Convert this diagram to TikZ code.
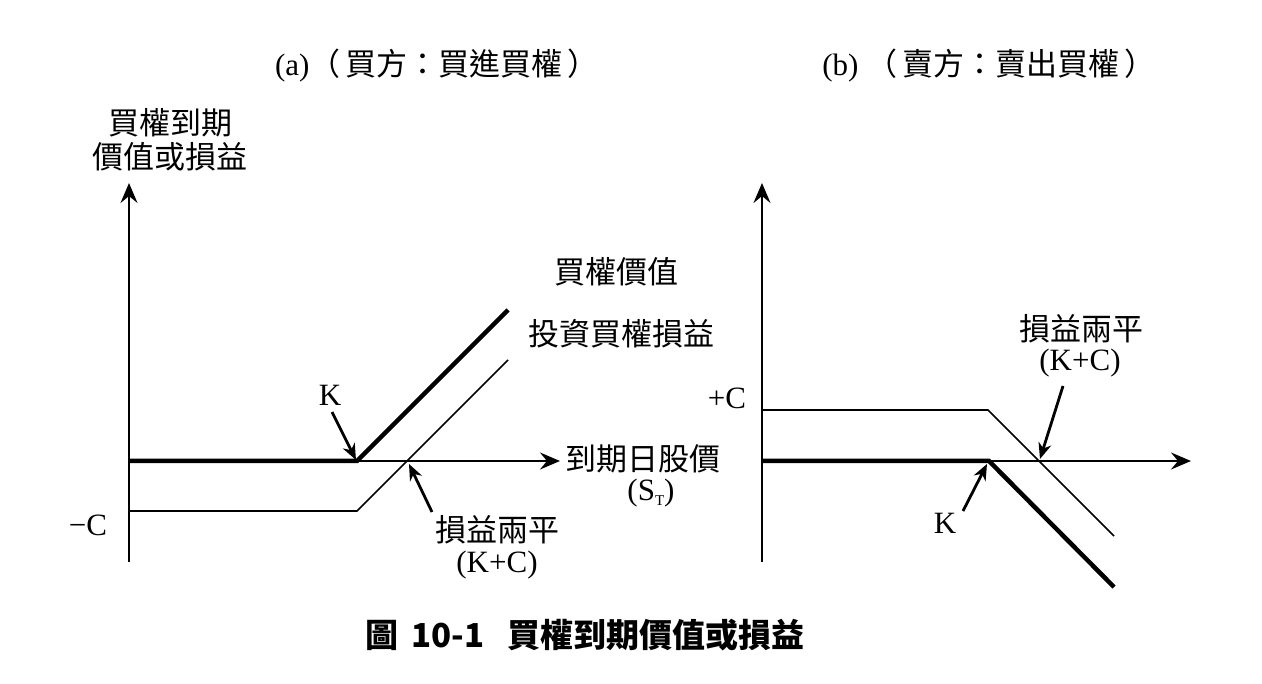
\documentclass[tikz,border=0pt]{standalone}
\usepackage{fontspec}
\setmainfont{Liberation Serif}
\newfontfamily\cjk{Noto Sans CJK TC}
\usetikzlibrary{arrows.meta}
\begin{document}
\begin{tikzpicture}[x=1pt,y=-1pt,
  axis/.style={line width=2.6pt,-{Stealth[length=20pt,width=17pt,inset=7pt]}},
  thickline/.style={line width=4.5pt},
  thinline/.style={line width=1.6pt},
  pointer/.style={line width=2.8pt,-{Stealth[length=16pt,width=13pt,inset=5pt]}},
  lat/.style={font=\fontsize{31}{34}\selectfont, inner sep=0pt},
  zh/.style={font=\cjk\fontsize{31}{35}\selectfont, inner sep=0pt},
  ttl/.style={font=\fontsize{31}{35}\selectfont, inner sep=0pt},
  capt/.style={font=\cjk\bfseries\fontsize{33}{37}\selectfont, inner sep=0pt}]
\useasboundingbox (0,0) rectangle (1262,684);
\fill[white] (0,0) rectangle (1262,684);

% ---------- panel (a) ----------
\coordinate (aO) at (129,461);
\coordinate (aYb) at (129,562);
\coordinate (aYt) at (129,183);
\coordinate (aXe) at (560,461);
\coordinate (aK) at (357,461);
\coordinate (aTe) at (508,310);
\coordinate (aL0) at (129,511);
\coordinate (aLk) at (357,511);
\coordinate (aLe) at (508,360);
\coordinate (aKs) at (332,412);
\coordinate (aKt) at (356,460);
\coordinate (aBs) at (432,512);
\coordinate (aBt) at (409,464);

\draw[axis] (aYb) -- (aYt);
\draw[axis] (aO) -- (aXe);
\draw[thickline] (aO) -- (aK) -- (aTe);
\draw[thinline] (aL0) -- (aLk) -- (aLe);
\draw[pointer] (aKs) -- (aKt);
\draw[pointer] (aBs) -- (aBt);

\node[ttl] (ta) at (437,66) {(a)\cjk（\,買方：買進買權\,）};
\node[zh] (ya1) at (170,123) {買權到期};
\node[zh] (ya2) at (170,157) {價值或損益};
\node[zh] (cv) at (616,272) {買權價值};
\node[zh] (pl) at (621,334) {投資買權損益};
\node[lat] (ka) at (330,395) {K};
\node[zh] (xa1) at (643,459) {到期日股價};
\node[lat] (xa2) at (651,493) {(S\raisebox{-0.35ex}{\fontsize{15}{15}\selectfont T})};
\node[lat] (mc) at (88,525) {−C};
\node[zh] (bea1) at (497,530) {損益兩平};
\node[lat] (bea2) at (497,565) {(K+C)};

% ---------- panel (b) ----------
\coordinate (bO) at (762,461);
\coordinate (bYb) at (762,562);
\coordinate (bYt) at (762,183);
\coordinate (bXe) at (1191,461);
\coordinate (bK) at (989,461);
\coordinate (bTe) at (1114,587);
\coordinate (bL0) at (762,410);
\coordinate (bLk) at (988,410);
\coordinate (bLe) at (1114,536);
\coordinate (bKs) at (963,511);
\coordinate (bKt) at (987,464);
\coordinate (bBs) at (1063,386);
\coordinate (bBt) at (1040,459);

\draw[axis] (bYb) -- (bYt);
\draw[axis] (bO) -- (bXe);
\draw[thickline] (bO) -- (bK) -- (bTe);
\draw[thinline] (bL0) -- (bLk) -- (bLe);
\draw[pointer] (bKs) -- (bKt);
\draw[pointer] (bBs) -- (bBt);

\node[ttl] (tb) at (989,66) {(b) \cjk（\,賣方：賣出買權\,）};
\node[lat] (pc) at (727,398) {+C};
\node[zh] (beb1) at (1081,329) {損益兩平};
\node[lat] (beb2) at (1080,363) {(K+C)};
\node[lat] (kb) at (945,523) {K};

% ---------- caption ----------
\node[capt] (cap1) at (425,635) {圖\, 10-1};
\node[capt] (cap2) at (656,635) {買權到期價值或損益};
\end{tikzpicture}
\end{document}
